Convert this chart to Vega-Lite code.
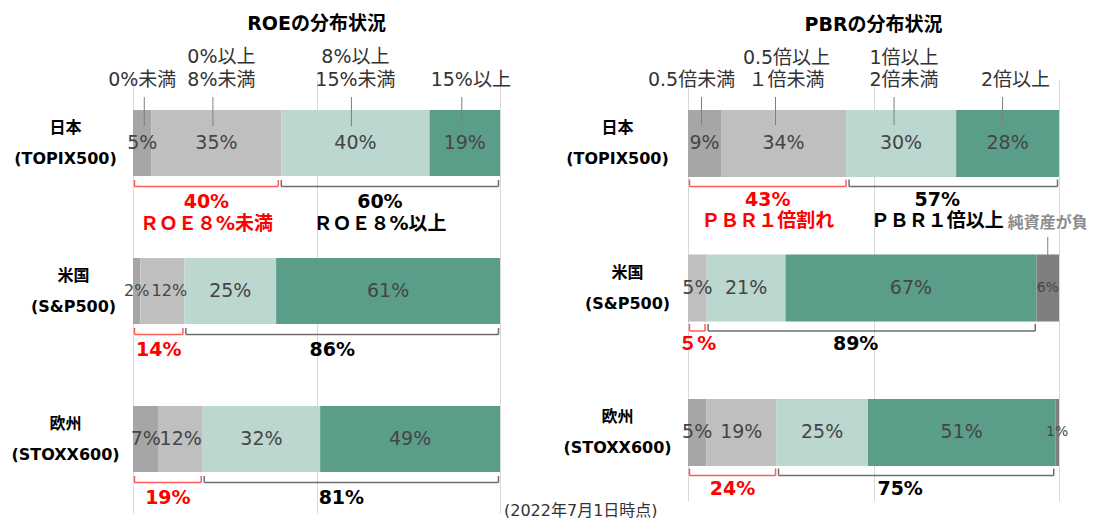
{
  "$schema": "https://vega.github.io/schema/vega-lite/v6.json",
  "background": "white",
  "padding": {"left": 10, "top": 15, "right": 0, "bottom": 0},
  "bounds": "flush",
  "spacing": 188,
  "resolve": {"scale": {"color": "independent", "x": "independent", "y": "independent"}},
  "config": {"view": {"stroke": null}, "font": "DejaVu Sans, Noto Sans CJK JP"},
  "datasets": {
    "roe": [
      {"region": "日本 (TOPIX500)", "cat": "0%未満", "k": 1, "value": 0.05},
      {"region": "日本 (TOPIX500)", "cat": "0%以上 8%未満", "k": 2, "value": 0.35},
      {"region": "日本 (TOPIX500)", "cat": "8%以上 15%未満", "k": 3, "value": 0.40},
      {"region": "日本 (TOPIX500)", "cat": "15%以上", "k": 4, "value": 0.19},
      {"region": "米国 (S&P500)", "cat": "0%未満", "k": 1, "value": 0.02},
      {"region": "米国 (S&P500)", "cat": "0%以上 8%未満", "k": 2, "value": 0.12},
      {"region": "米国 (S&P500)", "cat": "8%以上 15%未満", "k": 3, "value": 0.25},
      {"region": "米国 (S&P500)", "cat": "15%以上", "k": 4, "value": 0.61},
      {"region": "欧州 (STOXX600)", "cat": "0%未満", "k": 1, "value": 0.07},
      {"region": "欧州 (STOXX600)", "cat": "0%以上 8%未満", "k": 2, "value": 0.12},
      {"region": "欧州 (STOXX600)", "cat": "8%以上 15%未満", "k": 3, "value": 0.32},
      {"region": "欧州 (STOXX600)", "cat": "15%以上", "k": 4, "value": 0.49}
    ],
    "pbr": [
      {"region": "日本 (TOPIX500)", "cat": "0.5倍未満", "k": 1, "value": 0.09},
      {"region": "日本 (TOPIX500)", "cat": "0.5倍以上 １倍未満", "k": 2, "value": 0.34},
      {"region": "日本 (TOPIX500)", "cat": "1倍以上 2倍未満", "k": 3, "value": 0.30},
      {"region": "日本 (TOPIX500)", "cat": "2倍以上", "k": 4, "value": 0.28},
      {"region": "米国 (S&P500)", "cat": "0.5倍以上 １倍未満", "k": 2, "value": 0.05},
      {"region": "米国 (S&P500)", "cat": "1倍以上 2倍未満", "k": 3, "value": 0.21},
      {"region": "米国 (S&P500)", "cat": "2倍以上", "k": 4, "value": 0.67},
      {"region": "米国 (S&P500)", "cat": "純資産が負", "k": 5, "value": 0.06},
      {"region": "欧州 (STOXX600)", "cat": "0.5倍未満", "k": 1, "value": 0.05},
      {"region": "欧州 (STOXX600)", "cat": "0.5倍以上 １倍未満", "k": 2, "value": 0.19},
      {"region": "欧州 (STOXX600)", "cat": "1倍以上 2倍未満", "k": 3, "value": 0.25},
      {"region": "欧州 (STOXX600)", "cat": "2倍以上", "k": 4, "value": 0.51},
      {"region": "欧州 (STOXX600)", "cat": "純資産が負", "k": 5, "value": 0.01}
    ],
    "roeBr": [
      {"region": "日本 (TOPIX500)", "side": "low", "from": 0, "to": 0.40, "label": ["40%", "ＲＯＥ８%未満"]},
      {"region": "日本 (TOPIX500)", "side": "high", "from": 0.40, "to": 1, "label": ["60%", "ＲＯＥ８%以上"]},
      {"region": "米国 (S&P500)", "side": "low", "from": 0, "to": 0.14, "label": ["14%"]},
      {"region": "米国 (S&P500)", "side": "high", "from": 0.14, "to": 1, "label": ["86%"]},
      {"region": "欧州 (STOXX600)", "side": "low", "from": 0, "to": 0.19, "label": ["19%"]},
      {"region": "欧州 (STOXX600)", "side": "high", "from": 0.19, "to": 1, "label": ["81%"]}
    ],
    "pbrBr": [
      {"region": "日本 (TOPIX500)", "side": "low", "from": 0, "to": 0.43, "label": ["43%", "ＰＢＲ１倍割れ"]},
      {"region": "日本 (TOPIX500)", "side": "high", "from": 0.43, "to": 1, "label": ["57%", "ＰＢＲ１倍以上"]},
      {"region": "米国 (S&P500)", "side": "low", "from": 0, "to": 0.05, "label": ["５%"]},
      {"region": "米国 (S&P500)", "side": "high", "from": 0.05, "to": 0.94, "label": ["89%"]},
      {"region": "欧州 (STOXX600)", "side": "low", "from": 0, "to": 0.24, "label": ["24%"]},
      {"region": "欧州 (STOXX600)", "side": "high", "from": 0.24, "to": 0.99, "label": ["75%"]}
    ]
  },
  "hconcat": [
    {
      "width": 367,
      "height": 433,
      "title": {"text": "ROEの分布状況", "fontSize": 19, "fontWeight": "bold", "font": "DejaVu Sans, Noto Sans CJK JP", "color": "#000000", "offset": 14, "anchor": "middle", "frame": "group"},
      "encoding": {
        "y": {
          "field": "region", "type": "nominal", "title": null,
          "scale": {"type": "point", "domain": ["日本 (TOPIX500)", "米国 (S&P500)", "欧州 (STOXX600)"], "padding": 0.4628, "align": 0.46, "round": false},
          "axis": {"domain": false, "ticks": false, "grid": false, "labelExpr": "split(datum.label, ' ')", "labelFont": "DejaVu Sans, Noto Sans CJK JP", "labelFontSize": 16, "labelFontWeight": "bold", "labelColor": "#000000", "labelAlign": "center", "labelBaseline": "middle", "labelLineHeight": 31, "labelOffset": -15.5, "labelLimit": 300, "labelPadding": {"condition": {"test": "datum.value == '米国 (S&P500)'", "value": 60}, "value": 68}}
        }
      },
      "layer": [
        {
          "data": {"name": "roe"},
          "transform": [{"stack": "value", "groupby": ["region"], "sort": [{"field": "k", "order": "ascending"}], "offset": "normalize", "as": ["x0", "x1"]}],
          "mark": {"type": "bar", "height": 66},
          "encoding": {
            "x": {"field": "x0", "type": "quantitative", "scale": {"domain": [0, 1]}, "axis": {"values": [0, 0.5, 1], "grid": true, "gridColor": "#d9d9d9", "gridWidth": 1, "labels": false, "ticks": false, "domain": false, "title": null}},
            "x2": {"field": "x1"},
            "color": {"field": "cat", "type": "nominal", "scale": {"domain": ["0%未満", "0%以上 8%未満", "8%以上 15%未満", "15%以上"], "range": ["#a6a6a6", "#bfbfbf", "#bbd7d0", "#5a9e8a"]}, "legend": null}
          }
        },
        {
          "data": {"name": "roe"},
          "transform": [
            {"stack": "value", "groupby": ["region"], "sort": [{"field": "k", "order": "ascending"}], "offset": "normalize", "as": ["x0", "x1"]},
            {"calculate": "(datum.x0 + datum.x1) / 2", "as": "xm"}
          ],
          "mark": {"type": "text", "baseline": "middle", "color": "#454545", "font": "DejaVu Sans, Noto Sans CJK JP", "dx": {"expr": "datum.region == '米国 (S&P500)' && datum.k == 2 ? 7 : 0"}},
          "encoding": {
            "x": {"field": "xm", "type": "quantitative", "scale": {"domain": [0, 1]}},
            "text": {"field": "value", "type": "quantitative", "format": ".0%"},
            "size": {"condition": {"test": "datum.region == '米国 (S&P500)' && datum.k <= 2", "value": 16}, "value": 19}
          }
        },
        {
          "data": {"name": "roe"},
          "transform": [
            {"stack": "value", "groupby": ["region"], "sort": [{"field": "k", "order": "ascending"}], "offset": "normalize", "as": ["x0", "x1"]},
            {"calculate": "(datum.x0 + datum.x1) / 2", "as": "xm"},
            {"filter": "datum.region == '日本 (TOPIX500)'"}
          ],
          "mark": {"type": "rule", "color": "#7f7f7f", "strokeWidth": 1, "yOffset": -46, "y2Offset": -17, "xOffset": {"expr": "datum.k == 1 ? 2 : datum.k == 2 ? -3.5 : datum.k == 3 ? -4 : -3"}},
          "encoding": {
            "x": {"field": "xm", "type": "quantitative", "scale": {"domain": [0, 1]}},
            "y2": {"field": "region"}
          }
        },
        {
          "data": {"name": "roe"},
          "transform": [
            {"stack": "value", "groupby": ["region"], "sort": [{"field": "k", "order": "ascending"}], "offset": "normalize", "as": ["x0", "x1"]},
            {"calculate": "(datum.x0 + datum.x1) / 2", "as": "xm"},
            {"filter": "datum.region == '日本 (TOPIX500)'"},
            {"calculate": "indexof(datum.cat, ' ') >= 0 ? split(datum.cat, ' ') : ['', datum.cat]", "as": "lines"}
          ],
          "mark": {"type": "text", "baseline": "middle", "dy": -86, "fontSize": 19, "lineHeight": 23, "color": "#333333", "font": "DejaVu Sans, Noto Sans CJK JP", "dx": {"expr": "datum.k == 4 ? 6 : datum.k == 2 ? 5 : 0"}},
          "encoding": {
            "x": {"field": "xm", "type": "quantitative", "scale": {"domain": [0, 1]}},
            "text": {"field": "lines"}
          }
        },
        {
          "data": {"name": "roeBr"},
          "mark": {"type": "rule", "strokeWidth": 1.5, "yOffset": 43.5, "xOffset": 1.5, "x2Offset": -1.5},
          "encoding": {
            "x": {"field": "from", "type": "quantitative", "scale": {"domain": [0, 1]}},
            "x2": {"field": "to"},
            "color": {"condition": {"test": "datum.side == 'low'", "value": "#ff5a5a"}, "value": "#6e6e6e"}
          }
        },
        {
          "data": {"name": "roeBr"},
          "mark": {"type": "rule", "strokeWidth": 1.5, "yOffset": 37, "y2Offset": 43.5, "xOffset": 1.5},
          "encoding": {
            "x": {"field": "from", "type": "quantitative", "scale": {"domain": [0, 1]}},
            "y2": {"field": "region"},
            "color": {"condition": {"test": "datum.side == 'low'", "value": "#ff5a5a"}, "value": "#6e6e6e"}
          }
        },
        {
          "data": {"name": "roeBr"},
          "mark": {"type": "rule", "strokeWidth": 1.5, "yOffset": 37, "y2Offset": 43.5, "xOffset": -1.5},
          "encoding": {
            "x": {"field": "to", "type": "quantitative", "scale": {"domain": [0, 1]}},
            "y2": {"field": "region"},
            "color": {"condition": {"test": "datum.side == 'low'", "value": "#ff5a5a"}, "value": "#6e6e6e"}
          }
        },
        {
          "data": {"name": "roeBr"},
          "transform": [{"calculate": "(datum.from + datum.to) / 2", "as": "xm"}],
          "mark": {"type": "text", "baseline": "top", "dy": 49.5, "fontSize": 19, "fontWeight": "bold", "lineHeight": 22, "font": "DejaVu Sans, Noto Sans CJK JP", "dx": {"expr": "datum.side == 'high' ? -10 : 0"}},
          "encoding": {
            "x": {"field": "xm", "type": "quantitative", "scale": {"domain": [0, 1]}},
            "text": {"field": "label"},
            "color": {"condition": {"test": "datum.side == 'low'", "value": "#ff0000"}, "value": "#000000"}
          }
        },
        {
          "data": {"values": [{"note": "(2022年7月1日時点)"}]},
          "mark": {"type": "text", "align": "left", "baseline": "middle", "dx": 4, "dy": 72, "fontSize": 16, "font": "DejaVu Sans, Noto Sans CJK JP", "color": "#333333"},
          "encoding": {
            "x": {"datum": 1, "type": "quantitative", "scale": {"domain": [0, 1]}},
            "y": {"datum": "欧州 (STOXX600)", "type": "nominal"},
            "text": {"field": "note"}
          }
        }
      ]
    },
    {
      "width": 371,
      "height": 421,
      "title": {"text": "PBRの分布状況", "fontSize": 19, "fontWeight": "bold", "font": "DejaVu Sans, Noto Sans CJK JP", "color": "#000000", "offset": 14, "anchor": "middle", "frame": "group"},
      "encoding": {
        "y": {
          "field": "region", "type": "nominal", "title": null,
          "scale": {"type": "point", "domain": ["日本 (TOPIX500)", "米国 (S&P500)", "欧州 (STOXX600)"], "padding": 0.4567, "align": 0.481, "round": false},
          "axis": {"domain": false, "ticks": false, "grid": false, "labelExpr": "split(datum.label, ' ')", "labelFont": "DejaVu Sans, Noto Sans CJK JP", "labelFontSize": 16, "labelFontWeight": "bold", "labelColor": "#000000", "labelAlign": "center", "labelBaseline": "middle", "labelLineHeight": 31, "labelOffset": -15.5, "labelLimit": 300, "labelPadding": {"condition": {"test": "datum.value == '米国 (S&P500)'", "value": 61}, "value": 71}}
        }
      },
      "layer": [
        {
          "data": {"name": "pbr"},
          "transform": [{"stack": "value", "groupby": ["region"], "sort": [{"field": "k", "order": "ascending"}], "offset": "normalize", "as": ["x0", "x1"]}],
          "mark": {"type": "bar", "height": 67},
          "encoding": {
            "x": {"field": "x0", "type": "quantitative", "scale": {"domain": [0, 1]}, "axis": {"values": [0, 0.5, 1], "grid": true, "gridColor": "#d9d9d9", "gridWidth": 1, "labels": false, "ticks": false, "domain": false, "title": null}},
            "x2": {"field": "x1"},
            "color": {"field": "cat", "type": "nominal", "scale": {"domain": ["0.5倍未満", "0.5倍以上 １倍未満", "1倍以上 2倍未満", "2倍以上", "純資産が負"], "range": ["#a6a6a6", "#bfbfbf", "#bbd7d0", "#5a9e8a", "#7f7f7f"]}, "legend": null}
          }
        },
        {
          "data": {"name": "pbr"},
          "transform": [
            {"stack": "value", "groupby": ["region"], "sort": [{"field": "k", "order": "ascending"}], "offset": "normalize", "as": ["x0", "x1"]},
            {"calculate": "(datum.x0 + datum.x1) / 2", "as": "xm"}
          ],
          "mark": {"type": "text", "baseline": "middle", "color": "#454545", "font": "DejaVu Sans, Noto Sans CJK JP"},
          "encoding": {
            "x": {"field": "xm", "type": "quantitative", "scale": {"domain": [0, 1]}},
            "text": {"field": "value", "type": "quantitative", "format": ".0%"},
            "size": {"condition": {"test": "datum.cat == '純資産が負'", "value": 14}, "value": 19}
          }
        },
        {
          "data": {"name": "pbr"},
          "transform": [
            {"stack": "value", "groupby": ["region"], "sort": [{"field": "k", "order": "ascending"}], "offset": "normalize", "as": ["x0", "x1"]},
            {"calculate": "(datum.x0 + datum.x1) / 2", "as": "xm"},
            {"filter": "datum.region == '日本 (TOPIX500)'"}
          ],
          "mark": {"type": "rule", "color": "#7f7f7f", "strokeWidth": 1, "yOffset": -46.5, "y2Offset": -18.5, "xOffset": {"expr": "datum.k == 1 ? -3 : datum.k == 2 ? -8 : datum.k == 3 ? -7 : -5"}},
          "encoding": {
            "x": {"field": "xm", "type": "quantitative", "scale": {"domain": [0, 1]}},
            "y2": {"field": "region"}
          }
        },
        {
          "data": {"name": "pbr"},
          "transform": [
            {"stack": "value", "groupby": ["region"], "sort": [{"field": "k", "order": "ascending"}], "offset": "normalize", "as": ["x0", "x1"]},
            {"calculate": "(datum.x0 + datum.x1) / 2", "as": "xm"},
            {"filter": "datum.region == '日本 (TOPIX500)'"},
            {"calculate": "indexof(datum.cat, ' ') >= 0 ? split(datum.cat, ' ') : ['', datum.cat]", "as": "lines"}
          ],
          "mark": {"type": "text", "baseline": "middle", "dy": -85.5, "fontSize": 19, "lineHeight": 22.5, "color": "#333333", "font": "DejaVu Sans, Noto Sans CJK JP", "dx": {"expr": "datum.k == 1 ? -13 : datum.k == 4 ? 8 : 3"}},
          "encoding": {
            "x": {"field": "xm", "type": "quantitative", "scale": {"domain": [0, 1]}},
            "text": {"field": "lines"}
          }
        },
        {
          "data": {"name": "pbr"},
          "transform": [
            {"stack": "value", "groupby": ["region"], "sort": [{"field": "k", "order": "ascending"}], "offset": "normalize", "as": ["x0", "x1"]},
            {"calculate": "(datum.x0 + datum.x1) / 2", "as": "xm"},
            {"filter": "datum.region == '米国 (S&P500)' && datum.cat == '純資産が負'"}
          ],
          "mark": {"type": "rule", "color": "#7f7f7f", "strokeWidth": 1, "yOffset": -51, "y2Offset": -16},
          "encoding": {
            "x": {"field": "xm", "type": "quantitative", "scale": {"domain": [0, 1]}},
            "y2": {"field": "region"}
          }
        },
        {
          "data": {"name": "pbr"},
          "transform": [
            {"stack": "value", "groupby": ["region"], "sort": [{"field": "k", "order": "ascending"}], "offset": "normalize", "as": ["x0", "x1"]},
            {"calculate": "(datum.x0 + datum.x1) / 2", "as": "xm"},
            {"filter": "datum.region == '米国 (S&P500)' && datum.cat == '純資産が負'"}
          ],
          "mark": {"type": "text", "baseline": "bottom", "dy": -57, "fontSize": 16, "fontWeight": "bold", "color": "#8c8c8c", "font": "Noto Sans CJK JP"},
          "encoding": {
            "x": {"field": "xm", "type": "quantitative", "scale": {"domain": [0, 1]}},
            "text": {"field": "cat"}
          }
        },
        {
          "data": {"name": "pbrBr"},
          "mark": {"type": "rule", "strokeWidth": 1.5, "yOffset": 43, "xOffset": 1.5, "x2Offset": -1.5},
          "encoding": {
            "x": {"field": "from", "type": "quantitative", "scale": {"domain": [0, 1]}},
            "x2": {"field": "to"},
            "color": {"condition": {"test": "datum.side == 'low'", "value": "#ff5a5a"}, "value": "#6e6e6e"}
          }
        },
        {
          "data": {"name": "pbrBr"},
          "mark": {"type": "rule", "strokeWidth": 1.5, "yOffset": 36, "y2Offset": 43, "xOffset": 1.5},
          "encoding": {
            "x": {"field": "from", "type": "quantitative", "scale": {"domain": [0, 1]}},
            "y2": {"field": "region"},
            "color": {"condition": {"test": "datum.side == 'low'", "value": "#ff5a5a"}, "value": "#6e6e6e"}
          }
        },
        {
          "data": {"name": "pbrBr"},
          "mark": {"type": "rule", "strokeWidth": 1.5, "yOffset": 36, "y2Offset": 43, "xOffset": -1.5},
          "encoding": {
            "x": {"field": "to", "type": "quantitative", "scale": {"domain": [0, 1]}},
            "y2": {"field": "region"},
            "color": {"condition": {"test": "datum.side == 'low'", "value": "#ff5a5a"}, "value": "#6e6e6e"}
          }
        },
        {
          "data": {"name": "pbrBr"},
          "transform": [{"calculate": "(datum.from + datum.to) / 2", "as": "xm"}],
          "mark": {"type": "text", "baseline": "top", "dy": 47.5, "fontSize": 19, "fontWeight": "bold", "lineHeight": 21, "font": "DejaVu Sans, Noto Sans CJK JP", "dx": {"expr": "datum.side == 'high' ? -16 : 0"}},
          "encoding": {
            "x": {"field": "xm", "type": "quantitative", "scale": {"domain": [0, 1]}},
            "text": {"field": "label"},
            "color": {"condition": {"test": "datum.side == 'low'", "value": "#ff0000"}, "value": "#000000"}
          }
        }
      ]
    }
  ]
}
